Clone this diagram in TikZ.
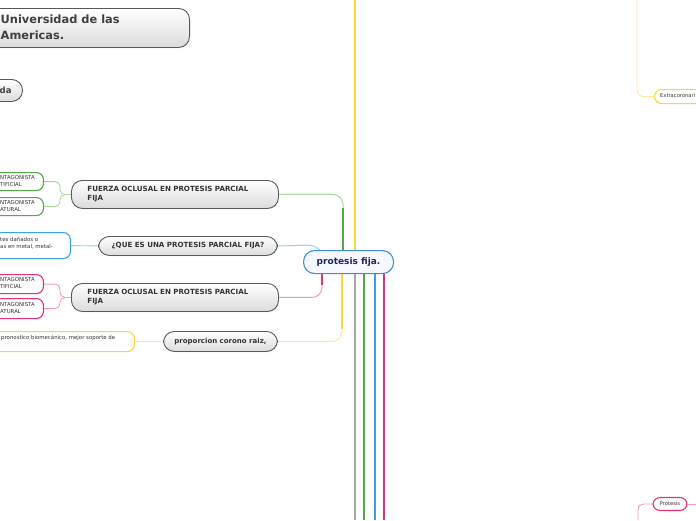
\documentclass[tikz,border=0pt]{standalone}
\usepackage{fontspec}
\setmainfont{DejaVu Sans}
\usetikzlibrary{shadows}
\pgfdeclarelayer{background}
\pgfsetlayers{background,main}
\definecolor{cgreen}{HTML}{55A845}
\definecolor{lgreen}{HTML}{A8D89A}
\definecolor{cblue}{HTML}{3A9FE6}
\definecolor{lblue}{HTML}{9ACFF2}
\definecolor{cpink}{HTML}{E5336A}
\definecolor{lpink}{HTML}{F29AB8}
\definecolor{cyellow}{HTML}{F9D63A}
\definecolor{lyellow}{HTML}{FBE7A0}
\definecolor{cgray}{HTML}{A8A8A8}
\definecolor{navy}{HTML}{1D2A55}
\definecolor{cborder}{HTML}{3C8FD3}
\definecolor{txt}{HTML}{333333}
\begin{document}
\begin{tikzpicture}[x=1pt,y=-1pt,
  topicbox/.style={draw=black!65, line width=0.9pt, rounded corners=11pt,
    top color=white, bottom color=black!14, inner sep=0pt,
    drop shadow={opacity=0.12, shadow xshift=0.6pt, shadow yshift=-1pt}},
  topictext/.style={font=\bfseries\fontsize{7.1}{8.8}\selectfont, text=txt, align=left},
  childbox/.style={draw=#1, line width=1.1pt, rounded corners=7pt, fill=white, inner sep=0pt},
  childtext/.style={font=\fontsize{5.4}{7}\selectfont, text=txt, align=left, inner sep=0pt, anchor=west},
  thinlink/.style={draw=#1, line width=0.9pt, rounded corners=5pt},
  mainlink/.style={draw=#1, line width=2.2pt, rounded corners=9pt},
]
\useasboundingbox (0,0) rectangle (696,520);
\clip (0,0) rectangle (696,520);

% guide coordinates
\coordinate (top) at (0,0);
\coordinate (bot) at (0,520);
\coordinate (xg) at (343,0);
\coordinate (xp) at (322,0);
\coordinate (xy) at (342,0);
\coordinate (xyt) at (355,0);
\coordinate (xgr) at (355,0);
\coordinate (xgn) at (364,0);
\coordinate (xbl) at (375,0);
\coordinate (xpk) at (384,0);
\coordinate (bx) at (60,0);
\coordinate (rx) at (637,0);
\coordinate (rx2) at (638,0);
\coordinate (redge) at (696,0);

% ---- title and side boxes
\node[topicbox, minimum width=230pt, minimum height=39pt, anchor=north east] (title) at (190,8) {};
\node[anchor=west, inner sep=0pt, font=\bfseries\fontsize{11.4}{16}\selectfont, text=black!75, align=left] (titletxt) at (0.5,27.5) {Universidad de las\\Americas.};
\node[topicbox, minimum width=60pt, minimum height=22pt, anchor=north east] (da) at (23,79) {};
\node[anchor=west, inner sep=0pt, font=\bfseries\fontsize{8.5}{11}\selectfont, text=black!75] (datxt) at (-0.5,90) {da};

% ---- main topics
\node[topicbox, minimum width=207pt, minimum height=28pt, anchor=north west, text width=175pt, inner xsep=16pt, topictext] (g) at (71,180) {FUERZA OCLUSAL EN PROTESIS PARCIAL\\FIJA};
\node[topicbox, minimum width=179pt, minimum height=19pt, anchor=north west, topictext] (b) at (98,236) {¿QUE ES UNA PROTESIS PARCIAL FIJA?};
\node[topicbox, minimum width=207pt, minimum height=28pt, anchor=north west, text width=175pt, inner xsep=16pt, topictext] (p) at (71,283) {FUERZA OCLUSAL EN PROTESIS PARCIAL\\FIJA};
\node[topicbox, minimum width=114pt, minimum height=20pt, anchor=north west, font=\bfseries\fontsize{7}{9}\selectfont, text=txt] (y) at (163,331) {proporcion corono raiz,};

\node[draw=cborder, line width=1.1pt, rounded corners=11pt, fill=blue!3!white, minimum width=90pt, minimum height=23pt, anchor=north west, font=\bfseries\fontsize{9}{11}\selectfont, text=navy, inner sep=0pt] (c) at (303,250) {protesis fija.};

% ---- children
\node[childbox=cgreen, minimum width=84pt, minimum height=18pt, anchor=north east] (g1) at (44,172) {};
\node[childtext] (g1t) at (0,181) {NTAGONISTA\\TIFICIAL};
\node[childbox=cgreen, minimum width=84pt, minimum height=18pt, anchor=north east] (g2) at (44,197) {};
\node[childtext] (g2t) at (0,206) {NTAGONISTA\\ATURAL};

\node[childbox=cblue, minimum width=111pt, minimum height=26pt, anchor=north east] (b1) at (71,232) {};
\node[childtext] (b1t) at (0,243) {tes dañados o\\as en metal, metal-};

\node[childbox=cpink, minimum width=84pt, minimum height=19pt, anchor=north east] (p1) at (44,274) {};
\node[childtext] (p1t) at (0,283.5) {NTAGONISTA\\TIFICIAL};
\node[childbox=cpink, minimum width=84pt, minimum height=20pt, anchor=north east] (p2) at (44,298) {};
\node[childtext] (p2t) at (0,308) {NTAGONISTA\\ATURAL};

\node[childbox=cyellow, minimum width=175pt, minimum height=20pt, anchor=north east] (y1) at (135,331) {};
\node[childtext] (y1t) at (1,338) {pronostico biomecánico, mejor soporte de};

% ---- right side
\node[childbox=cyellow, minimum width=60pt, minimum height=14pt, anchor=north west] (e) at (654,89) {};
\node[childtext, font=\fontsize{5.2}{6}\selectfont] (et) at (660,96) {Extracoronari};
\node[childbox=cpink, minimum width=34pt, minimum height=13pt, font=\fontsize{5.2}{6}\selectfont, text=txt] (pr) at (670,504) {Protesis};

\begin{pgfonlayer}{background}
% ---- child links
\draw[thinlink=lgreen] (g.west) -- (bx |- g.west) -- (bx |- g1.east) -- (g1.east);
\draw[thinlink=lgreen] (g.west) -- (bx |- g.west) -- (bx |- g2.east) -- (g2.east);
\draw[thinlink=lblue] (b.west) -- (b1.east);
\draw[thinlink=lpink] (p.west) -- (bx |- p.west) -- (bx |- p1.east) -- (p1.east);
\draw[thinlink=lpink] (p.west) -- (bx |- p.west) -- (bx |- p2.east) -- (p2.east);
\draw[thinlink=lyellow] (y.west) -- (y1.east);

% ---- topic links to centre
\draw[draw=lgreen, line width=1pt, rounded corners=10pt] (g.east) -- (xg |- g.east) -- ++(0,18);
\draw[draw=cgreen, line width=2pt] (343,208) -- (c.north -| xg);
\draw[draw=lblue, line width=1pt, rounded corners=6pt] (b.east) -- (314,245) -- (322,252);
\draw[draw=lpink, line width=1pt, rounded corners=10pt] (p.east) -- (xp |- p.east) -- ++(0,-14);
\draw[draw=cpink, line width=2pt] (322,285) -- (c.south -| xp);
\draw[draw=lyellow, line width=1pt, rounded corners=10pt] (y.east) -- (xy |- y.east) -- ++(0,-14);
\draw[draw=cyellow, line width=2pt] (342,329) -- (c.south -| xy);

% ---- long branches
\draw[mainlink=cyellow] (c.north -| xyt) -- (xyt |- top);
\draw[mainlink=cgray] (c.south -| xgr) -- (xgr |- bot);
\draw[mainlink=cgreen] (c.south -| xgn) -- (xgn |- bot);
\draw[mainlink=cblue] (c.south -| xbl) -- (xbl |- bot);
\draw[mainlink=cpink] (c.south -| xpk) -- (xpk |- bot);

% ---- right-side links
\draw[thinlink=lyellow, rounded corners=7pt] (rx |- top) -- (rx |- e.west) -- (e.west);
\draw[thinlink=lpink] (pr.east) -- (redge |- pr.east);
\draw[thinlink=lpink, rounded corners=6pt] (pr.west) -- (rx2 |- pr.west) -- (rx2 |- bot);
\end{pgfonlayer}
\end{tikzpicture}
\end{document}
